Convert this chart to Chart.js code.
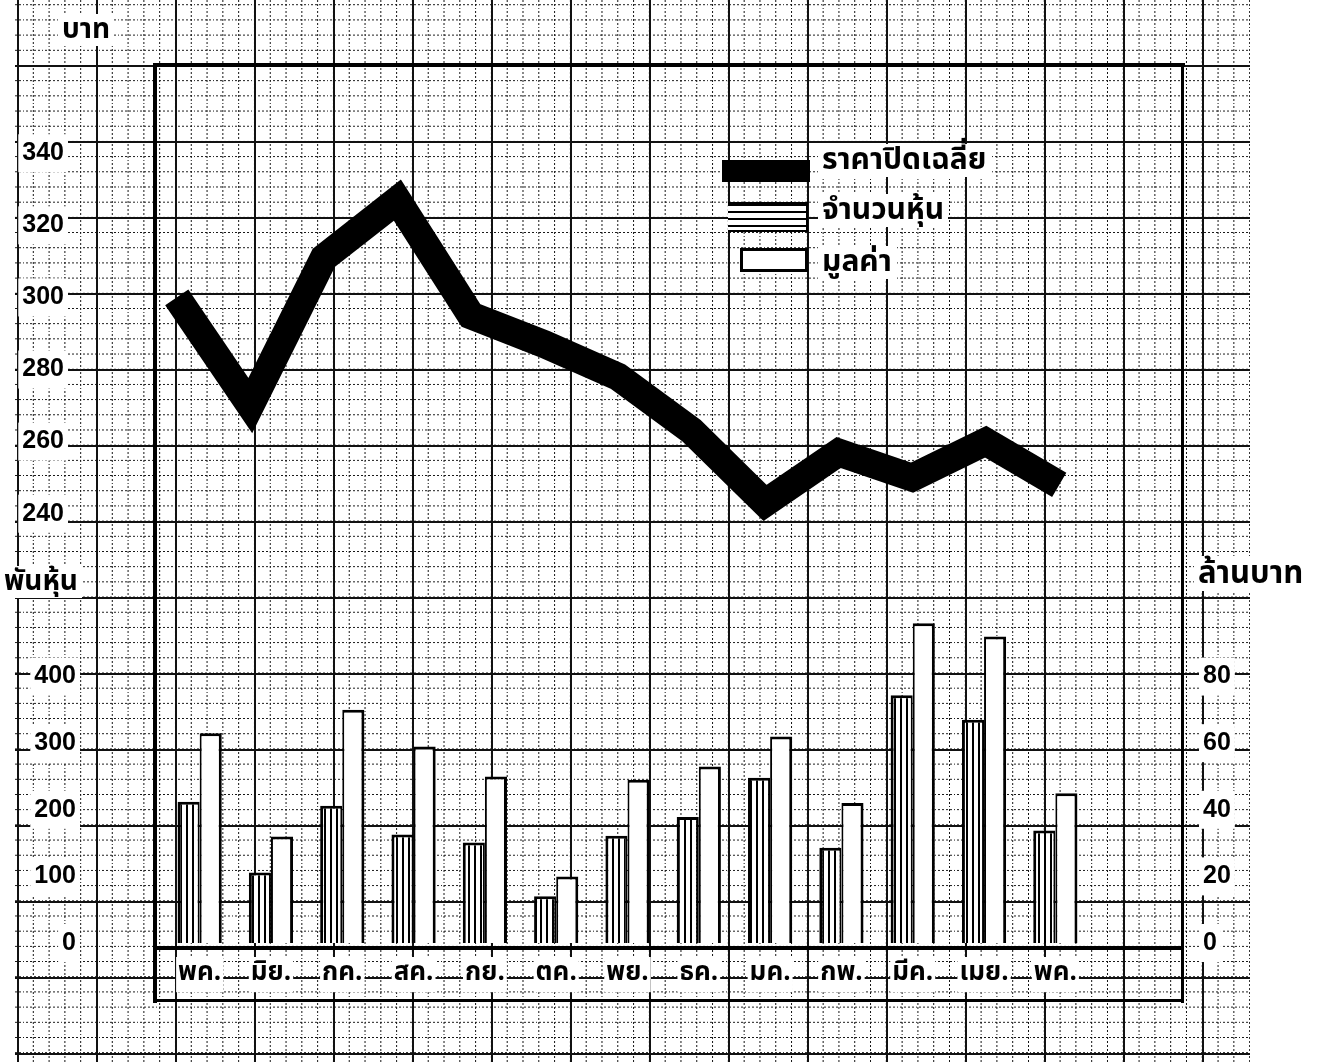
<!DOCTYPE html>
<html>
<head>
<meta charset="utf-8">
<script src="https://cdn.jsdelivr.net/npm/chart.js@4.4.1/dist/chart.umd.min.js"></script>
<style>
  html, body { margin: 0; padding: 0; background: #fff; }
  #page { position: relative; width: 1319px; height: 1062px; overflow: hidden; background: #fff;
          font-family: "Noto Sans Thai", "Noto Sans", "DejaVu Sans", sans-serif; }
  .layer { position: absolute; left: 15px; top: 0; width: 1235px; height: 1062px; }
  #minorV { background-image: linear-gradient(to right, #111 1.2px, transparent 1.2px);
            background-size: 15.8px 100%; background-position: 2px 0;
            -webkit-mask-image: repeating-linear-gradient(to bottom, #000 0 1.8px, transparent 1.8px 3.8px);
            mask-image: repeating-linear-gradient(to bottom, #000 0 1.8px, transparent 1.8px 3.8px); }
  #minorH { background-image: linear-gradient(to bottom, #111 1.2px, transparent 1.2px);
            background-size: 100% 15.2px; background-position: 0 65px;
            -webkit-mask-image: repeating-linear-gradient(to right, #000 0 1.8px, transparent 1.8px 3.8px);
            mask-image: repeating-linear-gradient(to right, #000 0 1.8px, transparent 1.8px 3.8px); }
  #major { background-image: linear-gradient(to right, #111 1.8px, transparent 1.8px),
                             linear-gradient(to bottom, #111 1.8px, transparent 1.8px);
           background-size: 79px 100%, 100% 76px; background-position: 2px 0, 0 65px; }
  canvas { position: absolute; left: 0; top: 0; }
  .rule { position: absolute; background: #000; }
  .lbl { position: absolute; font-weight: bold; color: #000; background: #fff; line-height: 1; padding: 2px 4px; white-space: nowrap; }
  #legend { position: absolute; left: 718px; top: 146px; }
  .sw { position: absolute; box-sizing: border-box; }
  .txt { position: absolute; font-weight: bold; font-size: 30px; background: #fff; padding: 0 4px;
         line-height: 1.1; white-space: nowrap; }
</style>
</head>
<body>
<div id="page">
  <div class="layer" id="minorV"></div>
  <div class="layer" id="minorH"></div>
  <div class="layer" id="major"></div>

  <!-- frame -->
  <div class="rule" style="left:153px; top:63px; width:4px; height:940px;"></div>
  <div class="rule" style="left:153px; top:63px; width:1032px; height:4px;"></div>
  <div class="rule" style="left:1181px; top:63px; width:3px; height:940px;"></div>
  <div class="rule" style="left:153px; top:946px; width:1031px; height:4px;"></div>
  <div class="rule" style="left:153px; top:999px; width:1031px; height:3px;"></div>

  <canvas id="top" width="1319" height="1062"></canvas>
  <canvas id="bottom" width="1319" height="1062"></canvas>

  <div class="lbl" style="left:58px; top:14px; font-size:28px;">บาท</div>
  <div class="lbl" style="left:0px; top:566px; font-size:28px;">พันหุ้น</div>
  <div class="lbl" style="left:1194px; top:556px; font-size:31px;">ล้านบาท</div>

  <div id="legend"></div>
</div>

<script>
// data
var months = ["พค.", "มิย.", "กค.", "สค.", "กย.", "ตค.", "พย.", "ธค.", "มค.", "กพ.", "มีค.", "เมย.", "พค."];
var closePrice = [300, 270, 311, 327, 295, 287, 278, 263, 243, 257, 250, 260, 248];   // บาท
var sharesK = [212, 106, 206, 163, 151, 70, 161, 189, 248, 143, 372, 335, 169];       // พันหุ้น
var valueM = [63, 32, 70, 59, 50, 20, 49, 53, 62, 42, 96, 92, 45];                     // ล้านบาท
var priceTicks = [240, 260, 280, 300, 320, 340];
var shareTicks = [0, 100, 200, 300, 400];
var valueTicks = [0, 20, 40, 60, 80];

var tickFont = { family: "Liberation Sans", size: 25, weight: "bold" };
var thaiFont = { family: "Noto Sans Thai, Noto Sans, DejaVu Sans, sans-serif", size: 26, weight: "bold" };

// vertical hatching for the share bars
function hatch() {
    var c = document.createElement("canvas");
    c.width = 6; c.height = 6;
    var g = c.getContext("2d");
    g.fillStyle = "#fff";
    g.fillRect(0, 0, 6, 6);
    g.fillStyle = "#000";
    g.fillRect(0, 0, 2, 6);
    return g.createPattern(c, "repeat");
}

function keepTicks(list) {
    return function(axis) {
        axis.ticks = list.map(function(v) { return { value: v }; });
    };
}

// upper chart: average closing price
var topChart = new Chart(document.getElementById("top"), {
    type: "line",
    data: {
        labels: months,
        datasets: [{
            label: "ราคาปิดเฉลี่ย",
            data: closePrice,
            borderColor: "#000",
            backgroundColor: "#000",
            borderWidth: 28,
            borderJoinStyle: "miter",
            borderCapStyle: "butt",
            pointRadius: 0,
            tension: 0,
            fill: false
        }]
    },
    options: {
        responsive: false,
        animation: false,
        events: [],
        layout: { padding: { left: 0, right: 223, top: 65, bottom: 522 } },
        plugins: { legend: { display: false }, tooltip: { enabled: false } },
        scales: {
            x: { display: false, offset: true },
            y: {
                min: 232.7,
                max: 359.5,
                afterBuildTicks: keepTicks(priceTicks),
                afterFit: function(a) { a.width = 140; },
                grid: { display: false },
                border: { display: false },
                ticks: {
                    padding: 68,
                    color: "#000",
                    font: tickFont,
                    showLabelBackdrop: true,
                    backdropColor: "#fff",
                    backdropPadding: 4
                }
            }
        }
    }
});

// lower chart: shares traded and value
var bottomChart = new Chart(document.getElementById("bottom"), {
    type: "bar",
    data: {
        labels: months,
        datasets: [{
            label: "จำนวนหุ้น",
            data: sharesK,
            yAxisID: "yS",
            backgroundColor: hatch(),
            borderColor: "#000",
            borderWidth: { top: 3, left: 3, right: 2, bottom: 0 },
            borderSkipped: "bottom"
        }, {
            label: "มูลค่า",
            data: valueM,
            yAxisID: "yV",
            backgroundColor: "#fff",
            borderColor: "#000",
            borderWidth: { top: 3, left: 2, right: 3, bottom: 0 },
            borderSkipped: "bottom"
        }]
    },
    options: {
        responsive: false,
        animation: false,
        events: [],
        layout: { padding: { left: 0, right: 0, top: 560, bottom: 0 } },
        datasets: { bar: { categoryPercentage: 0.62, barPercentage: 1.0 } },
        plugins: { legend: { display: false }, tooltip: { enabled: false } },
        scales: {
            x: {
                offset: true,
                grid: { display: false },
                border: { display: false },
                afterFit: function(a) { a.height = 114; },
                ticks: { padding: 8, color: "#000", font: thaiFont, maxRotation: 0, autoSkip: false,
                         showLabelBackdrop: true, backdropColor: "#fff", backdropPadding: 2 }
            },
            yS: {
                position: "left",
                min: 0,
                max: 575,
                afterBuildTicks: keepTicks(shareTicks),
                afterFit: function(a) { a.width = 164; },
                grid: { display: false },
                border: { display: false },
                ticks: { padding: 80, color: "#000", font: tickFont,
                         showLabelBackdrop: true, backdropColor: "#fff", backdropPadding: 4 }
            },
            yV: {
                position: "right",
                min: 0,
                max: 115,
                afterBuildTicks: keepTicks(valueTicks),
                afterFit: function(a) { a.width = 228; },
                grid: { display: false },
                border: { display: false },
                ticks: { padding: 104, color: "#000", font: tickFont,
                         showLabelBackdrop: true, backdropColor: "#fff", backdropPadding: 4 }
            }
        }
    }
});

// legend built from the datasets
(function() {
    var lg = document.getElementById("legend");
    var items = [topChart.data.datasets[0], bottomChart.data.datasets[0], bottomChart.data.datasets[1]];
    var swatches = [
        "left:4px; top:14px; width:88px; height:22px; background:#000;",
        "left:10px; top:56px; width:80px; height:30px; border:2px solid #000; border-left:0; background:repeating-linear-gradient(to bottom,#000 0 2px,#fff 2px 7px);",
        "left:22px; top:102px; width:68px; height:24px; border:3px solid #000; background:#fff;"
    ];
    var textTops = [-2, 48, 100];
    items.forEach(function(ds, i) {
        var s = document.createElement("div");
        s.className = "sw";
        s.style.cssText = swatches[i];
        lg.appendChild(s);
        var t = document.createElement("div");
        t.className = "txt";
        t.style.left = "100px";
        t.style.top = textTops[i] + "px";
        t.textContent = ds.label;
        lg.appendChild(t);
    });
})();
</script>
</body>
</html>
